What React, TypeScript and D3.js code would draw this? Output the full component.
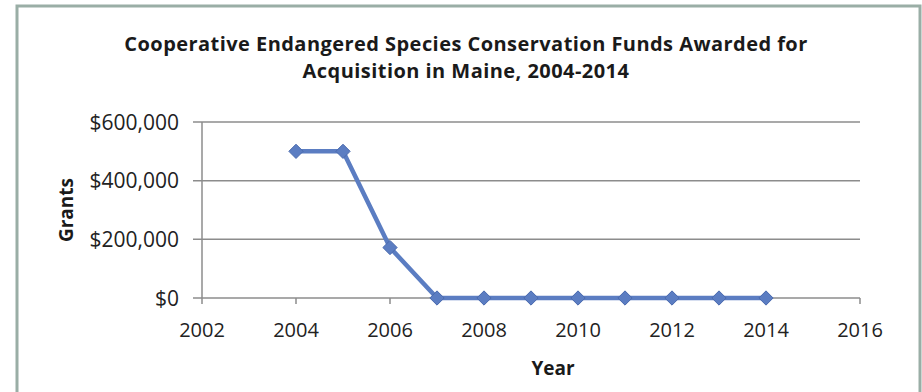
import React from "react";
import * as d3 from "d3";

const years = [2004, 2005, 2006, 2007, 2008, 2009, 2010, 2011, 2012, 2013, 2014];
const grants = [500000, 500000, 172000, 0, 0, 0, 0, 0, 0, 0, 0];
const xTicks = [2002, 2004, 2006, 2008, 2010, 2012, 2014, 2016];
const yTicks = [0, 200000, 400000, 600000];
const titleLines = [
  "Cooperative Endangered Species Conservation Funds Awarded for",
  "Acquisition in Maine, 2004-2014",
];

const W = 922;
const H = 392;
const FONT = "'Open Sans', Lato, sans-serif";

export default function App() {
  const x = d3.scaleLinear().domain([2002, 2016]).range([202, 860]);
  const y = d3.scaleLinear().domain([0, 600000]).range([298, 122]);
  const line = d3
    .line<number>()
    .x((_, i) => x(years[i]))
    .y((d) => y(d));
  const fmt = (v: number) => "$" + d3.format(",")(v);
  const diamond = d3.symbol().type(d3.symbolDiamond2).size(130)();
  const grid = "#8c8c8c";
  const blue = "#5b7dc2";

  return (
    <svg
      width={W}
      height={H}
      style={{ position: "absolute", left: 0, top: 0, display: "block" }}
    >
      <rect x={0} y={0} width={W} height={H} fill="#fff" />
      <rect
        x={17}
        y={6}
        width={903}
        height={400}
        fill="#fff"
        stroke="#9aaea6"
        strokeWidth={3}
      />
      {titleLines.map((t, i) => (
        <text
          key={i}
          x={466}
          y={51 + i * 27}
          textAnchor="middle"
          fontFamily={FONT}
          fontWeight="bold"
          fontSize={20}
          letterSpacing={0.45}
          fill="#1a1a1a"
        >
          {t}
        </text>
      ))}
      {yTicks.map((v) => (
        <g key={v}>
          <line
            x1={193}
            x2={860}
            y1={y(v)}
            y2={y(v)}
            stroke={grid}
            strokeWidth={1.5}
          />
          <text
            x={179}
            y={y(v)}
            dy="0.36em"
            textAnchor="end"
            fontFamily={FONT}
            fontSize={21}
            fill="#222"
          >
            {fmt(v)}
          </text>
        </g>
      ))}
      <line x1={202} x2={202} y1={122} y2={298} stroke={grid} strokeWidth={1.5} />
      {xTicks.map((v) => (
        <g key={v}>
          <line x1={x(v)} x2={x(v)} y1={298} y2={304} stroke={grid} strokeWidth={1.5} />
          <text
            x={x(v)}
            y={337}
            textAnchor="middle"
            fontFamily={FONT}
            fontSize={20}
            fill="#222"
          >
            {v}
          </text>
        </g>
      ))}
      <path d={line(grants) || ""} fill="none" stroke={blue} strokeWidth={4.5} strokeLinejoin="round" />
      {grants.map((g, i) => (
        <path
          key={i}
          d={diamond || ""}
          transform={`translate(${x(years[i])},${y(g)})`}
          fill={blue}
          stroke="#4a6aae"
          strokeWidth={1}
        />
      ))}
      <text
        x={553}
        y={375}
        textAnchor="middle"
        fontFamily={FONT}
        fontWeight="bold"
        fontSize={19}
        fill="#1a1a1a"
      >
        Year
      </text>
      <text
        transform="translate(73,210) rotate(-90)"
        textAnchor="middle"
        fontFamily={FONT}
        fontWeight="bold"
        fontSize={19}
        fill="#1a1a1a"
      >
        Grants
      </text>
    </svg>
  );
}
